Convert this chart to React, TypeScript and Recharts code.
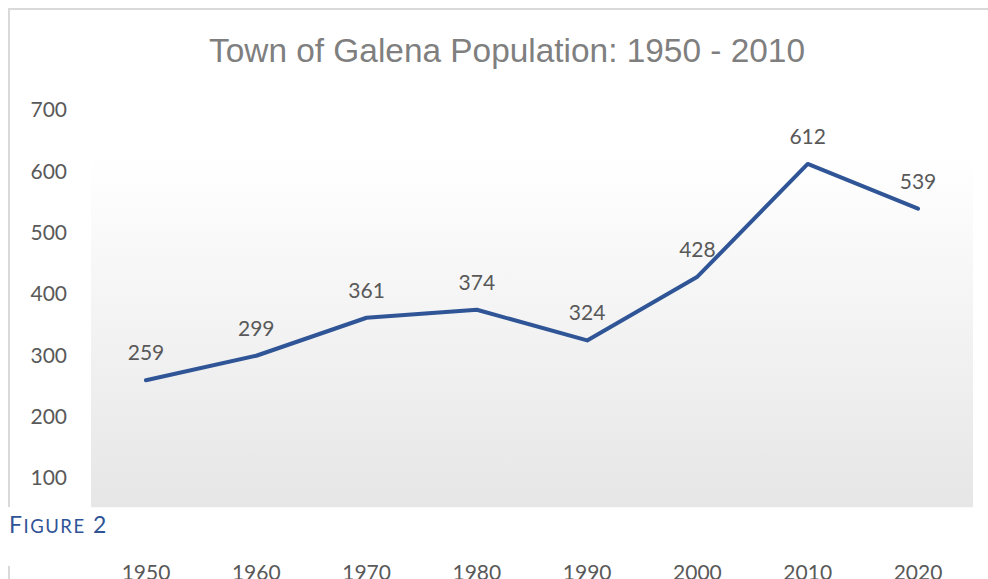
import React from 'react';
import { LineChart, Line, XAxis, YAxis, ReferenceArea, LabelList } from 'recharts';

const years = ['1950', '1960', '1970', '1980', '1990', '2000', '2010', '2020'];
const population = [259, 299, 361, 374, 324, 428, 612, 539];
const yTicks = [100, 200, 300, 400, 500, 600, 700];
const titleText = 'Town of Galena Population: 1950 - 2010';
const plotBand = [52, 624];

const data = years.map((year, i) => ({ year, population: population[i] }));
const lastIndex = years.length - 1;

const FONT = 'Lato, "Open Sans", sans-serif';

export default function App() {
  return (
    <div style={{ position: 'absolute', left: 0, top: 0, width: 988, height: 579, background: '#fff', overflow: 'hidden' }}>
      <svg width={0} height={0} style={{ position: 'absolute' }}>
        <defs>
          <linearGradient id="plotGrad" x1="0" y1="0" x2="0" y2="1">
            <stop offset="0%" stopColor="#ffffff" />
            <stop offset="100%" stopColor="#e6e6e6" />
          </linearGradient>
        </defs>
      </svg>
      {/* frame lines */}
      <div style={{ position: 'absolute', left: 8, top: 8, width: 980, height: 2, background: '#d9d9d9' }} />
      <div style={{ position: 'absolute', left: 8, top: 8, width: 2, height: 499, background: '#d9d9d9' }} />
      <div style={{ position: 'absolute', left: 8, top: 566, width: 2, height: 13, background: '#d9d9d9' }} />
      <div style={{ position: 'absolute', left: 0, top: 0 }}>
        <LineChart width={988} height={579} data={data} margin={{ top: 110, right: 15, bottom: 0, left: 0 }}>
          <XAxis
            dataKey="year"
            axisLine={false}
            tickLine={false}
            tickSize={0}
            tickMargin={26}
            height={40}
            padding={{ left: 55, right: 55 }}
            interval={0}
            tick={{ fill: '#595959', fontSize: 21, fontFamily: FONT }}
          />
          <XAxis xAxisId="bg" type="number" domain={[0, lastIndex]} allowDataOverflow hide height={0} />
          <YAxis
            domain={[0, 700]}
            ticks={yTicks}
            axisLine={false}
            tickLine={false}
            tickSize={0}
            tickMargin={24}
            width={91}
            tick={{ fill: '#595959', fontSize: 21, fontFamily: FONT }}
          />
          <ReferenceArea
            xAxisId="bg"
            x1={0}
            x2={lastIndex}
            y1={plotBand[0]}
            y2={plotBand[1]}
            fill="url(#plotGrad)"
            fillOpacity={1}
            stroke="none"
          />
          <Line
            type="linear"
            dataKey="population"
            stroke="#2f5597"
            strokeWidth={4}
            strokeLinejoin="round"
            strokeLinecap="round"
            dot={false}
            isAnimationActive={false}
          >
            <LabelList dataKey="population" position="top" offset={20} fill="#595959" fontSize={21} fontFamily={FONT} />
          </Line>
        </LineChart>
      </div>
      <svg width={988} height={80} style={{ position: 'absolute', left: 0, top: 0 }}>
        <text
          x={209}
          y={62}
          fontFamily='"Liberation Sans", Arial, sans-serif'
          fontSize={34}
          fill="#7f7f7f"
          textLength={596}
          lengthAdjust="spacingAndGlyphs"
        >
          {titleText}
        </text>
      </svg>
      <div
        style={{
          position: 'absolute',
          left: 9,
          top: 509,
          fontFamily: FONT,
          color: '#2f5496',
          fontSize: 23,
          letterSpacing: 1.5,
          lineHeight: '30px',
          whiteSpace: 'nowrap',
        }}
      >
        F<span style={{ fontSize: 18.5 }}>IGURE</span> 2
      </div>
    </div>
  );
}
